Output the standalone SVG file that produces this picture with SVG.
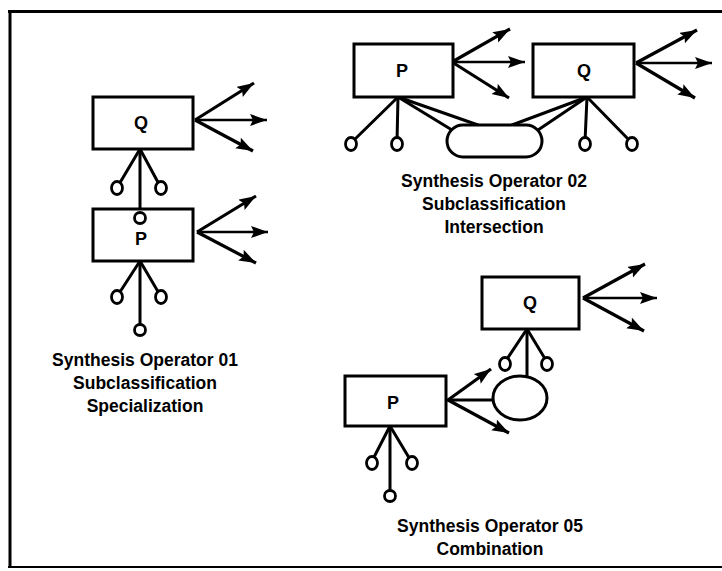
<svg xmlns="http://www.w3.org/2000/svg" width="722" height="571" viewBox="0 0 722 571">
<style>
  .box{fill:#fff;stroke:#000;stroke-width:3}
  .ln{stroke:#000;stroke-width:3;fill:none;stroke-linecap:round}
  .ar{stroke:#000;stroke-width:3.2;fill:none;marker-end:url(#ah)}
  .hz{stroke:#000;stroke-width:2.4;fill:none;marker-end:url(#ah)}
  .sc{fill:#fff;stroke:#000;stroke-width:2.8}
  .lbl{font-family:"Liberation Sans",Arial,sans-serif;font-weight:bold;font-size:18px;text-anchor:middle;fill:#000}
  .cap{font-family:"Liberation Sans",Arial,sans-serif;font-weight:bold;font-size:17.5px;text-anchor:middle;fill:#000}
  .frame{stroke:#000;fill:none}
</style>
<defs>
  <marker id="ah" markerUnits="userSpaceOnUse" markerWidth="20" markerHeight="14" refX="17" refY="6" orient="auto">
    <path d="M0,0 L17,6 L0,12 L3,6 z" fill="#000"/>
  </marker>
</defs>
<rect x="0" y="0" width="722" height="571" fill="#fff"/>
<g id="frame">
  <line class="frame" x1="8" y1="11.5" x2="722" y2="11.5" stroke-width="3"/>
  <line class="frame" x1="10" y1="10" x2="10" y2="568" stroke-width="3"/>
  <line class="frame" x1="8" y1="567" x2="722" y2="567" stroke-width="2"/>
</g>
<g id="connectors">
  <!-- Operator 01 -->
  <line class="ar" x1="195" y1="120" x2="254" y2="83"/>
  <line class="hz" x1="195" y1="120" x2="267" y2="120"/>
  <line class="ar" x1="195" y1="120" x2="253" y2="151"/>
  <line class="ln" x1="140" y1="149" x2="118" y2="186"/>
  <line class="ln" x1="140" y1="149" x2="160" y2="186"/>
  <line class="ln" x1="140" y1="149" x2="140" y2="213"/>
  <line class="ar" x1="197" y1="232" x2="256" y2="196"/>
  <line class="hz" x1="197" y1="232" x2="268" y2="232"/>
  <line class="ar" x1="197" y1="232" x2="256" y2="263"/>
  <line class="ln" x1="140" y1="261" x2="118" y2="295"/>
  <line class="ln" x1="140" y1="261" x2="160" y2="295"/>
  <line class="ln" x1="140" y1="261" x2="140" y2="325"/>
  <!-- Operator 02 -->
  <line class="ar" x1="452" y1="62" x2="510" y2="29"/>
  <line class="hz" x1="452" y1="62" x2="525" y2="62"/>
  <line class="ar" x1="452" y1="62" x2="509" y2="98"/>
  <line class="ar" x1="636" y1="63" x2="697" y2="30"/>
  <line class="hz" x1="636" y1="63" x2="712" y2="63"/>
  <line class="ar" x1="636" y1="63" x2="695" y2="98"/>
  <line class="ln" x1="398" y1="97" x2="352" y2="142"/>
  <line class="ln" x1="398" y1="97" x2="397" y2="142"/>
  <line class="ln" x1="398" y1="97" x2="452" y2="130"/>
  <line class="ln" x1="398" y1="97" x2="478" y2="125"/>
  <line class="ln" x1="587" y1="97" x2="512" y2="125"/>
  <line class="ln" x1="587" y1="97" x2="538" y2="130"/>
  <line class="ln" x1="587" y1="97" x2="585" y2="142"/>
  <line class="ln" x1="587" y1="97" x2="631" y2="142"/>
  <!-- Operator 05 -->
  <line class="ar" x1="583" y1="298" x2="645" y2="264"/>
  <line class="hz" x1="583" y1="298" x2="657" y2="298"/>
  <line class="ar" x1="583" y1="298" x2="644" y2="331"/>
  <line class="ln" x1="527" y1="329" x2="505" y2="362"/>
  <line class="ln" x1="527" y1="329" x2="547" y2="362"/>
  <line class="ln" x1="527" y1="329" x2="527" y2="377"/>
  <line class="ar" x1="448" y1="400" x2="491" y2="369"/>
  <line class="ln" x1="448" y1="400" x2="494" y2="400"/>
  <line class="ar" x1="448" y1="400" x2="509" y2="433"/>
  <line class="ln" x1="390" y1="426" x2="372" y2="461"/>
  <line class="ln" x1="390" y1="426" x2="411" y2="461"/>
  <line class="ln" x1="390" y1="426" x2="390" y2="492"/>
</g>
<g id="op01-Q">
  <rect class="box" x="93" y="97" width="100" height="52"/>
  <text class="lbl" x="141" y="129">Q</text>
</g>
<g id="op01-P">
  <rect class="box" x="93" y="209" width="100" height="52"/>
  <text class="lbl" x="141" y="245">P</text>
</g>
<g id="op01-ends">
  <ellipse class="sc" cx="117" cy="188" rx="5.5" ry="6.5"/>
  <ellipse class="sc" cx="161" cy="188" rx="5.5" ry="6.5"/>
  <ellipse class="sc" cx="140" cy="218" rx="5.5" ry="5.5"/>
  <ellipse class="sc" cx="117" cy="297" rx="5.5" ry="6.5"/>
  <ellipse class="sc" cx="161" cy="297" rx="5.5" ry="6.5"/>
  <ellipse class="sc" cx="140" cy="330" rx="5.5" ry="5.5"/>
</g>
<g id="op02-P">
  <rect class="box" x="354" y="44" width="99" height="53"/>
  <text class="lbl" x="402" y="77">P</text>
</g>
<g id="op02-Q">
  <rect class="box" x="533" y="44" width="101" height="53"/>
  <text class="lbl" x="584" y="77">Q</text>
</g>
<g id="op02-intersection">
  <rect class="box" x="447" y="125" width="95" height="32" rx="16" ry="16"/>
</g>
<g id="op02-ends">
  <ellipse class="sc" cx="351" cy="144" rx="5.5" ry="6.5"/>
  <ellipse class="sc" cx="397" cy="144" rx="5.5" ry="6.5"/>
  <ellipse class="sc" cx="585" cy="144" rx="5.5" ry="6.5"/>
  <ellipse class="sc" cx="632" cy="144" rx="5.5" ry="6.5"/>
</g>
<g id="op05-Q">
  <rect class="box" x="482" y="277" width="97" height="52"/>
  <text class="lbl" x="530" y="309">Q</text>
</g>
<g id="op05-P">
  <rect class="box" x="345" y="376" width="101" height="50"/>
  <text class="lbl" x="393" y="409">P</text>
</g>
<g id="op05-combination">
  <ellipse class="box" cx="520" cy="398" rx="27" ry="22"/>
</g>
<g id="op05-ends">
  <ellipse class="sc" cx="505" cy="364" rx="5.5" ry="6.5"/>
  <ellipse class="sc" cx="547" cy="364" rx="5.5" ry="6.5"/>
  <ellipse class="sc" cx="372" cy="463" rx="5.5" ry="6.5"/>
  <ellipse class="sc" cx="412" cy="463" rx="5.5" ry="6.5"/>
  <ellipse class="sc" cx="390" cy="496" rx="5.5" ry="5.5"/>
</g>
<g id="captions">
  <text class="cap" x="145" y="366">Synthesis Operator 01</text>
  <text class="cap" x="145" y="389">Subclassification</text>
  <text class="cap" x="145" y="412">Specialization</text>
  <text class="cap" x="494" y="187">Synthesis Operator 02</text>
  <text class="cap" x="494" y="210">Subclassification</text>
  <text class="cap" x="494" y="233">Intersection</text>
  <text class="cap" x="490" y="532">Synthesis Operator 05</text>
  <text class="cap" x="490" y="555">Combination</text>
</g>
</svg>
